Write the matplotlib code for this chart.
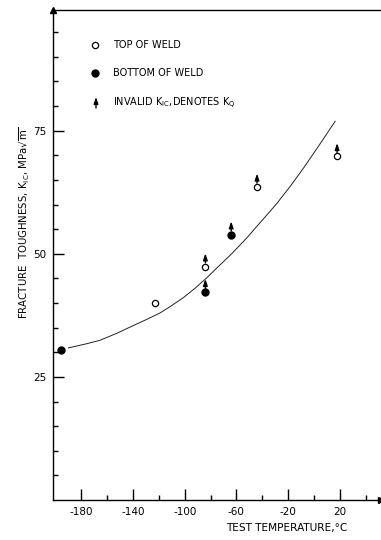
import matplotlib
matplotlib.use("Agg")
import matplotlib.pyplot as plt
from matplotlib.transforms import offset_copy

plt.rcParams['font.family'] = ['DejaVu Sans']
plt.rcParams['axes.unicode_minus'] = False

# data
top_temp = [-123, -84, -44, 18]          # open circles, top of weld
top_k = [40.1, 47.4, 63.6, 69.8]
top_invalid = [False, True, True, True]

bot_temp = [-196, -84, -64]              # filled circles, bottom of weld
bot_k = [30.4, 42.2, 53.9]
bot_invalid = [False, True, True]

# hand-drawn trend curve
curve_temp = [-190, -178, -166, -153, -140, -130, -119, -110, -101, -92, -83, -74, -64,
              -52, -41, -29, -18, -8, 4, 16.5]
curve_k = [30.9, 31.6, 32.4, 33.8, 35.4, 36.6, 38.0, 39.5, 41.1, 43.0, 45.1, 47.4, 49.9,
           53.2, 56.5, 60.1, 63.8, 67.4, 72.0, 76.9]

xticks_major = [-180, -140, -100, -60, -20, 20]
xticks_minor = [-160, -120, -80, -40, 0, 40]
yticks_major = [25, 50, 75]

W, H = 381, 540
fig = plt.figure(figsize=(W / 100, H / 100), dpi=100)
ax = fig.add_axes([53 / W, 1 - 500 / H, 1 - 53 / W, (500 - 10) / H])
ax.set_xlim(-202, 52)
ax.set_ylim(0, 99.5)

for s in ['left', 'bottom', 'top']:
    ax.spines[s].set_linewidth(1.0)
ax.spines['right'].set_visible(False)

ax.set_xticks(xticks_major)
ax.set_xticks(xticks_minor, minor=True)
ax.set_yticks(yticks_major)
ax.set_yticks([v for v in range(5, 100, 5) if v not in yticks_major], minor=True)
ax.tick_params(which='major', direction='in', length=8, width=1.0, labelsize=7.5, pad=5)
ax.tick_params(which='minor', direction='in', length=3.5, width=1.0)
ax.tick_params(top=False, right=False)

# axis arrows
ax.plot(0, 1, marker='^', color='k', ms=5, transform=ax.transAxes, clip_on=False)
ax.plot(1, 0, marker='>', color='k', ms=5, transform=ax.transAxes, clip_on=False)

ax.plot(curve_temp, curve_k, color='#222222', lw=0.7)

ax.plot(top_temp, top_k, 'o', mfc='white', mec='k', mew=0.9, ms=4.5)
ax.plot(bot_temp, bot_k, 'o', mfc='k', mec='k', ms=5)

arrow_style = '-|>,head_length=0.38,head_width=0.13'
tip = offset_copy(ax.transData, fig=fig, x=0, y=9.5, units='points')
tail = offset_copy(ax.transData, fig=fig, x=0, y=2.6, units='points')
for xs, ys, inv in [(top_temp, top_k, top_invalid), (bot_temp, bot_k, bot_invalid)]:
    for x, y, f in zip(xs, ys, inv):
        if f:
            ax.annotate('', xy=(x, y), xycoords=tip, xytext=(x, y), textcoords=tail,
                        arrowprops=dict(arrowstyle=arrow_style, color='k', lw=1.0,
                                        shrinkA=0, shrinkB=0))

# legend drawn by hand
fx = lambda px: px / W
fy = lambda py: 1 - py / H
fig.lines.append(plt.Line2D([fx(95)], [fy(45)], marker='o', mfc='white', mec='k',
                            mew=0.9, ms=4.5, transform=fig.transFigure))
fig.lines.append(plt.Line2D([fx(95)], [fy(73)], marker='o', mfc='k', mec='k',
                            ms=5, transform=fig.transFigure))
ax.annotate('', xy=(fx(96), fy(97)), xycoords='figure fraction',
            xytext=(fx(96), fy(108)), textcoords='figure fraction',
            arrowprops=dict(arrowstyle=arrow_style, color='k', lw=1.0,
                            shrinkA=0, shrinkB=0))
fig.text(fx(113), fy(45), 'TOP OF WELD', fontsize=7, va='center')
fig.text(fx(113), fy(73), 'BOTTOM OF WELD', fontsize=7, va='center')
fig.text(fx(113), fy(103), r'INVALID K$_{\mathrm{IC}}$,DENOTES K$_{\mathrm{Q}}$',
         fontsize=7, va='center')

fig.text(fx(25), fy(223), r'FRACTURE  TOUGHNESS, K$_{\mathrm{IC}}$, MPa$\sqrt{\mathrm{m}}$',
         fontsize=7.3, rotation=90, ha='center', va='center')
fig.text(fx(287), fy(528), 'TEST TEMPERATURE,°C', fontsize=7.6, ha='center', va='center')

fig.savefig('out.png', dpi=100)
